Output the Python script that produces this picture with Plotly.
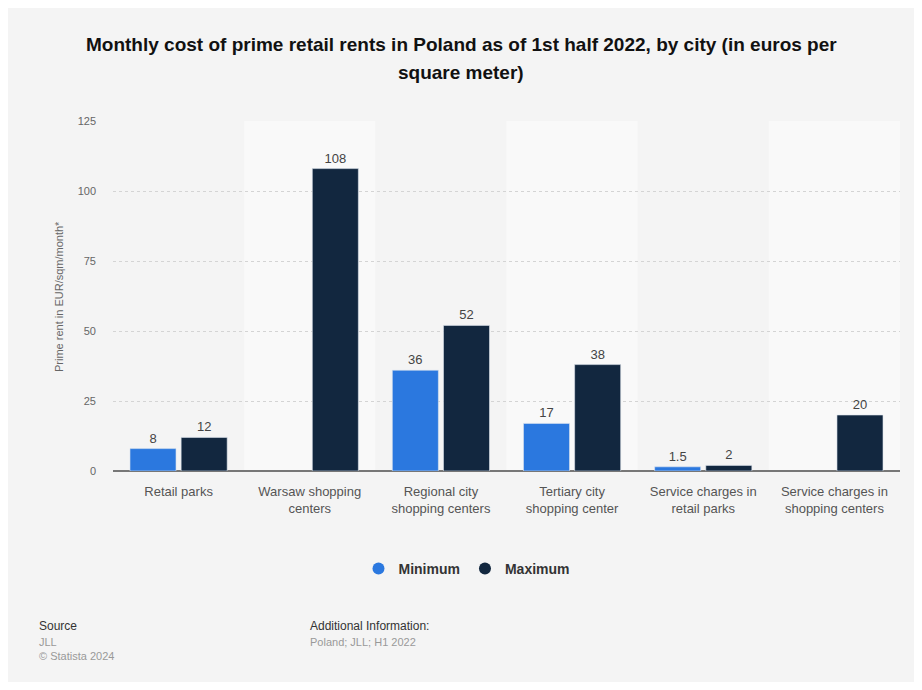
import plotly.graph_objects as go

categories = ["Retail parks", "Warsaw shopping<br>centers", "Regional city<br>shopping centers",
              "Tertiary city<br>shopping center", "Service charges in<br>retail parks",
              "Service charges in<br>shopping centers"]
minimum = [8, None, 36, 17, 1.5, None]
maximum = [12, 108, 52, 38, 2, 20]
y_ticks = [0, 25, 50, 75, 100, 125]

C_MIN = "#2b78df"
C_MAX = "#12273f"

W, H = 922, 690
L, R, T, B = 113, 22, 121, 219
pw, ph = W - L - R, H - T - B

def px(x):
    return (x - L) / pw

def py(y):
    return (H - B - y) / ph

fig = go.Figure()

def lbl(v):
    return "" if v is None else (f"{v:g}")

fig.add_trace(go.Bar(x=list(range(len(categories))), y=minimum, name="Minimum",
                     marker=dict(color=C_MIN, line=dict(color="#dfe6ee", width=0.6)),
                     text=[lbl(v) for v in minimum], textposition="outside",
                     textfont=dict(size=13, color="#444", family="Liberation Sans"),
                     cliponaxis=False, showlegend=False))
fig.add_trace(go.Bar(x=list(range(len(categories))), y=maximum, name="Maximum",
                     marker=dict(color=C_MAX, line=dict(color="#dfe6ee", width=0.6)),
                     text=[lbl(v) for v in maximum], textposition="outside",
                     textfont=dict(size=13, color="#444", family="Liberation Sans"),
                     cliponaxis=False, showlegend=False))

# legend entries with circle markers
for name, col in [("<b>Minimum</b>", C_MIN), ("<b>Maximum</b>", C_MAX)]:
    fig.add_trace(go.Scatter(x=[None], y=[None], mode="markers", name=name,
                             marker=dict(color=col, size=15, symbol="circle")))

shapes = [
    dict(type="rect", xref="paper", yref="paper", x0=px(8), x1=px(914), y0=py(682), y1=py(8),
         fillcolor="#f4f4f4", line=dict(width=0), layer="below"),
]
for i in range(len(categories)):
    if i % 2 == 1:
        shapes.append(dict(type="rect", xref="x", yref="paper", x0=i - 0.5, x1=i + 0.5, y0=0, y1=1,
                           fillcolor="#f9f9f9", line=dict(width=0), layer="below"))

annotations = [
    dict(text="<b>Monthly cost of prime retail rents in Poland as of 1st half 2022, by city (in euros per</b>",
         x=px(461), y=py(44), xref="paper", yref="paper", showarrow=False,
         font=dict(size=19, color="#111", family="Liberation Sans"), xanchor="center", yanchor="middle"),
    dict(text="<b>square meter)</b>",
         x=px(461), y=py(73), xref="paper", yref="paper", showarrow=False,
         font=dict(size=19, color="#111", family="Liberation Sans"), xanchor="center", yanchor="middle"),
    dict(text="Prime rent in EUR/sqm/month*", x=px(59), y=py(296), xref="paper", yref="paper",
         showarrow=False, textangle=-90, font=dict(size=11, color="#666", family="Liberation Sans"),
         xanchor="center", yanchor="middle"),
    dict(text="Source", x=px(37), y=py(626), xref="paper", yref="paper", showarrow=False,
         xanchor="left", yanchor="middle", font=dict(size=12, color="#333", family="Liberation Sans")),
    dict(text="JLL", x=px(37), y=py(642), xref="paper", yref="paper", showarrow=False,
         xanchor="left", yanchor="middle", font=dict(size=11, color="#999", family="Liberation Sans")),
    dict(text="© Statista 2024", x=px(37), y=py(656), xref="paper", yref="paper", showarrow=False,
         xanchor="left", yanchor="middle", font=dict(size=11, color="#999", family="Liberation Sans")),
    dict(text="Additional Information:", x=px(308), y=py(626), xref="paper", yref="paper", showarrow=False,
         xanchor="left", yanchor="middle", font=dict(size=12, color="#333", family="Liberation Sans")),
    dict(text="Poland; JLL; H1 2022", x=px(308), y=py(642), xref="paper", yref="paper", showarrow=False,
         xanchor="left", yanchor="middle", font=dict(size=11, color="#999", family="Liberation Sans")),
]

fig.update_layout(
    width=W, height=H,
    margin=dict(l=L, r=R, t=T, b=B, autoexpand=False),
    paper_bgcolor="white", plot_bgcolor="rgba(0,0,0,0)",
    barmode="group", bargap=0.22, bargroupgap=0.1,
    shapes=shapes, annotations=annotations,
    font=dict(family="Liberation Sans", color="#555"),
    legend=dict(orientation="h", x=px(467), xanchor="center", y=py(569), yanchor="middle",
                font=dict(size=14, color="#333", family="Liberation Sans"),
                bgcolor="rgba(0,0,0,0)", itemsizing="constant", traceorder="normal"),
    xaxis=dict(tickmode="array", tickvals=list(range(len(categories))), ticktext=categories,
               range=[-0.5, len(categories) - 0.5], showgrid=False, zeroline=False,
               showline=False, ticks="", tickfont=dict(size=13, color="#555"), ticklabelstandoff=11),
    yaxis=dict(range=[0, 125], tickvals=y_ticks, showgrid=True, gridcolor="#d4d4d4",
               griddash="dot", gridwidth=1, zeroline=True, zerolinecolor="#777", zerolinewidth=1.5,
               tickfont=dict(size=11, color="#666"), ticklabelstandoff=16, showline=False),
)

fig.write_html("out.html")
